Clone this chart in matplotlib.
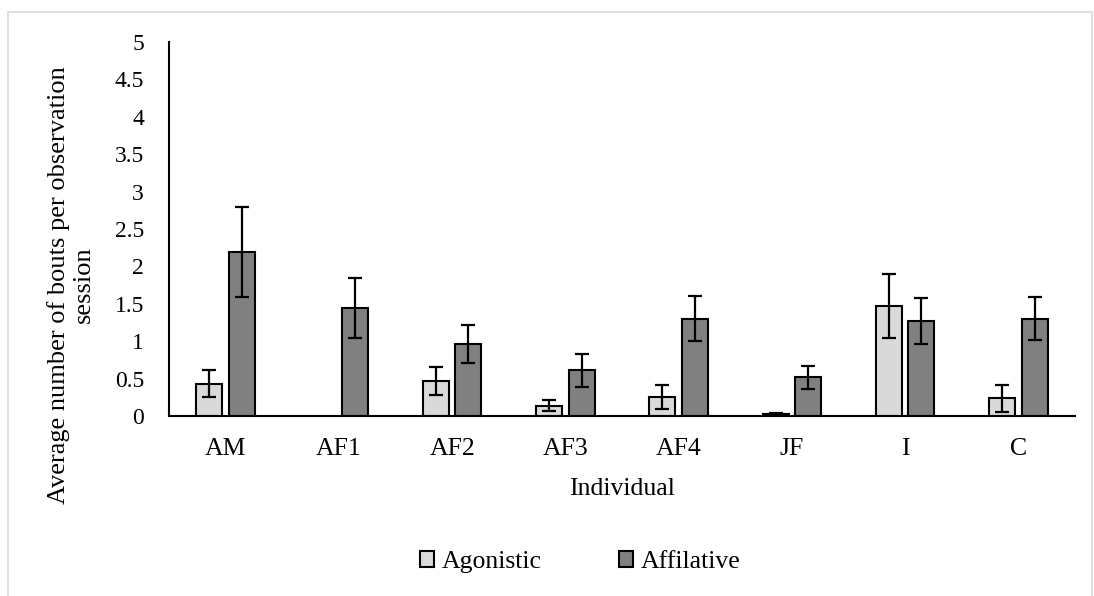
import numpy as np
import matplotlib.pyplot as plt
from matplotlib.patches import Rectangle

# mean bouts per session and error for each individual
individuals = ['AM', 'AF1', 'AF2', 'AF3', 'AF4', 'JF', 'I', 'C']
agonistic = [0.43, 0.0, 0.47, 0.14, 0.26, 0.03, 1.47, 0.24]
agonistic_err = [0.18, 0.0, 0.19, 0.07, 0.16, 0.01, 0.43, 0.18]
affilative = [2.19, 1.44, 0.96, 0.61, 1.30, 0.52, 1.27, 1.30]
affilative_err = [0.60, 0.40, 0.25, 0.22, 0.30, 0.155, 0.31, 0.29]
yticks = [0, 0.5, 1, 1.5, 2, 2.5, 3, 3.5, 4, 4.5, 5]

plt.rcParams['font.family'] = ['Liberation Serif', 'DejaVu Serif']
plt.rcParams['font.size'] = 17

fig = plt.figure(figsize=(10.94, 5.96), dpi=100)
ax = fig.add_axes([169/1094, 1 - 416/596, (1075 - 169)/1094, (416 - 42)/596])

x = np.arange(len(individuals))
w = 0.23
off = 0.143


def draw_series(pos, vals, errs, color, label):
    vals = np.array(vals)
    errs = np.array(errs)
    edges = ['black' if v > 0 else 'none' for v in vals]
    ax.bar(pos, vals, w, color=color, edgecolor=edges, linewidth=1.5,
           label=label)
    keep = vals > 0
    ax.errorbar(pos[keep], vals[keep], yerr=errs[keep], fmt='none',
                ecolor='black', elinewidth=1.6, capsize=5, capthick=1.6)


draw_series(x - off, agonistic, agonistic_err, '#d9d9d9', 'Agonistic')
draw_series(x + off, affilative, affilative_err, '#808080', 'Affilative')

ax.set_xlim(-0.5, len(individuals) - 0.5)
ax.set_ylim(0, 5)
ax.set_yticks(yticks)
ax.set_yticklabels([f'{t:g}' for t in yticks])
ax.set_xticks(x)
ax.set_xticklabels(individuals, fontsize=18.5)
ax.tick_params(axis='y', length=0, pad=18)
ax.tick_params(axis='x', length=0, pad=16)
for s in ['top', 'right']:
    ax.spines[s].set_visible(False)
ax.spines['left'].set_linewidth(1.5)
ax.spines['bottom'].set_linewidth(1.5)

ax.set_ylabel('Average number of bouts per observation\nsession', fontsize=19,
              linespacing=1.2)
ax.yaxis.set_label_coords((95 - 169)/906, (416 - 285)/374)
ax.set_xlabel('Individual', fontsize=18.5)
ax.xaxis.set_label_coords(0.5, -(478 - 416)/374)

handles, labels = ax.get_legend_handles_labels()
fig.legend(handles, labels, loc='center', bbox_to_anchor=(580/1094, 1 - 562/596),
           ncol=2, frameon=False, fontsize=18.5, handlelength=0.55,
           handleheight=0.55, handletextpad=0.3, columnspacing=3.0)

# light frame round the chart area
fig.patches.append(Rectangle((8/1094, -0.05), (1092 - 8)/1094, 1.05 - 12/596,
                             transform=fig.transFigure, fill=False,
                             edgecolor='#d9d9d9', linewidth=1.2))

fig.savefig('out.png', dpi=100)
